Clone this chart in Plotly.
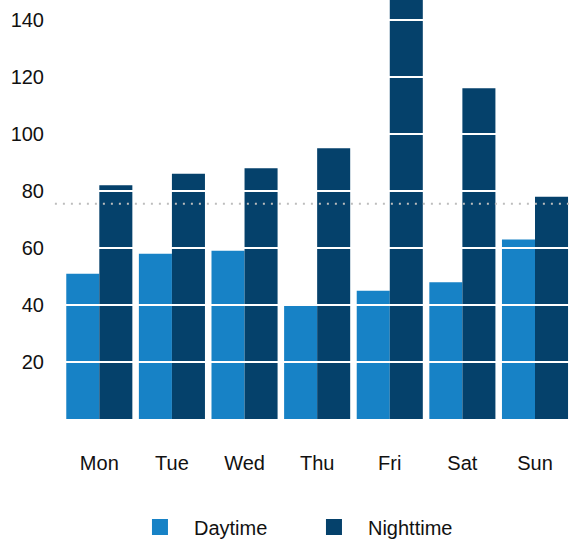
import plotly.graph_objects as go

days = ["Mon", "Tue", "Wed", "Thu", "Fri", "Sat", "Sun"]
daytime = [51, 58, 59, 40, 45, 48, 63]
nighttime = [82, 86, 88, 95, 152, 116, 78]
y_ticks = [20, 40, 60, 80, 100, 120, 140]
avg_value = 75.5
y_max = 147

day_color = "#1782c6"
night_color = "#05416b"
font_family = "Liberation Sans, Arial, sans-serif"

fig = go.Figure()
fig.add_trace(go.Bar(x=days, y=daytime, name="Daytime", marker=dict(color=day_color, line=dict(width=0)), showlegend=False))
fig.add_trace(go.Bar(x=days, y=nighttime, name="Nighttime", marker=dict(color=night_color, line=dict(width=0)), showlegend=False))

# legend proxies
fig.add_trace(go.Scatter(x=[None], y=[None], mode="markers", name="Daytime",
                         marker=dict(symbol="square", size=16, color=day_color)))
fig.add_trace(go.Scatter(x=[None], y=[None], mode="markers", name="Nighttime",
                         marker=dict(symbol="square", size=16, color=night_color)))

shapes = []
for t in y_ticks:
    shapes.append(dict(type="line", xref="paper", x0=0, x1=1, yref="y", y0=t, y1=t,
                       line=dict(color="white", width=2), layer="above"))
shapes.append(dict(type="line", xref="paper", x0=-0.016, x1=1, yref="y", y0=avg_value, y1=avg_value,
                   line=dict(color="#bdbdbd", width=2, dash="2px,6px"), layer="above"))

fig.update_layout(
    width=570, height=539,
    margin=dict(l=63, r=0, t=0, b=120),
    plot_bgcolor="white", paper_bgcolor="white",
    barmode="group", bargap=0.09, bargroupgap=0,
    font=dict(family=font_family, size=20, color="#111111"),
    shapes=shapes,
    showlegend=True,
    legend=dict(orientation="h", xref="container", yref="container",
                x=0.221, xanchor="left", y=1 - 527 / 539, yanchor="middle",
                itemwidth=58, entrywidth=101, entrywidthmode="pixels",
                font=dict(size=20), bgcolor="rgba(0,0,0,0)", borderwidth=0),
    xaxis=dict(showgrid=False, zeroline=False, showline=False, ticks="",
               range=[-0.5, 6.482], ticklabelstandoff=30, fixedrange=True),
    yaxis=dict(showgrid=False, zeroline=False, showline=False, ticks="",
               range=[0, y_max], tickvals=y_ticks, ticklabelstandoff=18, fixedrange=True),
)

fig.write_html("out.html", config={"displayModeBar": False},
               post_script="document.body.style.margin='0';")
